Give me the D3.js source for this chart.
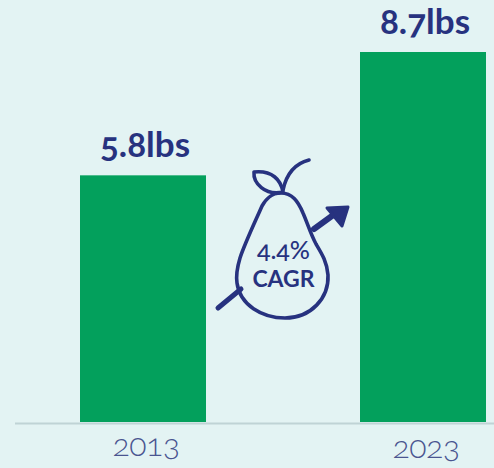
<!DOCTYPE html>
<html>
<head>
<meta charset="utf-8">
<script src="https://cdn.jsdelivr.net/npm/d3@7"></script>
<style>
html,body{margin:0;padding:0;background:#e3f3f3;overflow:hidden}
svg{display:block}
.value{font-family:Lato,sans-serif;font-weight:700;font-size:35px;fill:#27327f;text-anchor:middle;font-feature-settings:"onum" 1;}
.year{font-family:Lato,sans-serif;font-weight:300;font-size:32px;letter-spacing:-0.5px;fill:#4a5590;text-anchor:middle;font-feature-settings:"onum" 1;}
.badge{font-family:Lato,sans-serif;fill:#27327f;text-anchor:middle;font-feature-settings:"onum" 1;}
.badge.rate{font-weight:500;font-size:25px}
.badge.unit{font-weight:700;font-size:23px}
</style>
</head>
<body>
<svg id="chart" width="494" height="468"></svg>
<script>
const years = ["2013", "2023"];
const pounds = [5.8, 8.7];
const valueLabels = ["5.8lbs", "8.7lbs"];
const growthLines = ["4.4%", "CAGR"];

const navy = "#27327f";
const svg = d3.select("#chart");

const x = d3.scaleBand().domain(years).range([80, 486]).paddingInner(0.55).paddingOuter(0);
const y = d3.scaleLinear().domain([0, 8.7]).range([422, 52]);
const centre = d => x(d) + x.bandwidth() / 2;

// Bars
svg.selectAll("rect.bar").data(years).join("rect")
  .attr("class", "bar")
  .attr("x", d => x(d))
  .attr("width", x.bandwidth())
  .attr("y", (d, i) => y(pounds[i]))
  .attr("height", (d, i) => y(0) - y(pounds[i]))
  .attr("fill", "#03a05c");

// Baseline
svg.append("line")
  .attr("x1", 15).attr("x2", 494)
  .attr("y1", 423.5).attr("y2", 423.5)
  .attr("stroke", "#bfd3d5").attr("stroke-width", 2);

// Value labels above each bar
svg.selectAll("text.value").data(valueLabels).join("text")
  .attr("class", "value")
  .attr("x", (d, i) => centre(years[i]) + 2)
  .attr("y", (d, i) => y(pounds[i]) - 18.5)
  .text(d => d);

// Year labels; the later year sits slightly lower
svg.selectAll("text.year").data(years).join("text")
  .attr("class", "year")
  .attr("x", d => centre(d) + 3)
  .attr("y", (d, i) => 456 + i * 2)
  .text(d => d);

// Growth arrow passing behind the pear
const arrow = svg.append("g").attr("fill", "none").attr("stroke", navy).attr("stroke-linecap", "round");
arrow.append("path").attr("d", "M218,308L241,289").attr("stroke-width", 5);
arrow.append("path").attr("d", "M314,229L336,213").attr("stroke-width", 6);
svg.append("path").attr("d", "M327,208L348,207L342,226Z")
  .attr("fill", navy).attr("stroke", navy).attr("stroke-width", 3).attr("stroke-linejoin", "round");

// Pear outline, leaf and stem
const pear = svg.append("g").attr("fill", "none").attr("stroke", navy).attr("stroke-width", 3.6).attr("stroke-linecap", "round").attr("stroke-linejoin", "round");
pear.append("path").attr("d", "M281,193C271,193 266,199 262,206C255,222 245,243 240,258C237,268 236,276 237,283C240,305 262,318 285,318C311,318 329,298 328,275C327,262 322,254 316,244C311,235 307,222 303,213C298,201 292,193 281,193Z");
pear.append("path").attr("d", "M283,192C281,180 272,170 254,172C253,183 265,196 283,192Z");
pear.append("path").attr("d", "M283,190C286,176 293,164 309,160");

// Text inside the pear
svg.selectAll("text.badge").data(growthLines).join("text")
  .attr("class", (d, i) => "badge " + (i ? "unit" : "rate"))
  .attr("x", 283.5)
  .attr("y", (d, i) => 259 + i * 28)
  .text(d => d);
</script>
</body>
</html>
